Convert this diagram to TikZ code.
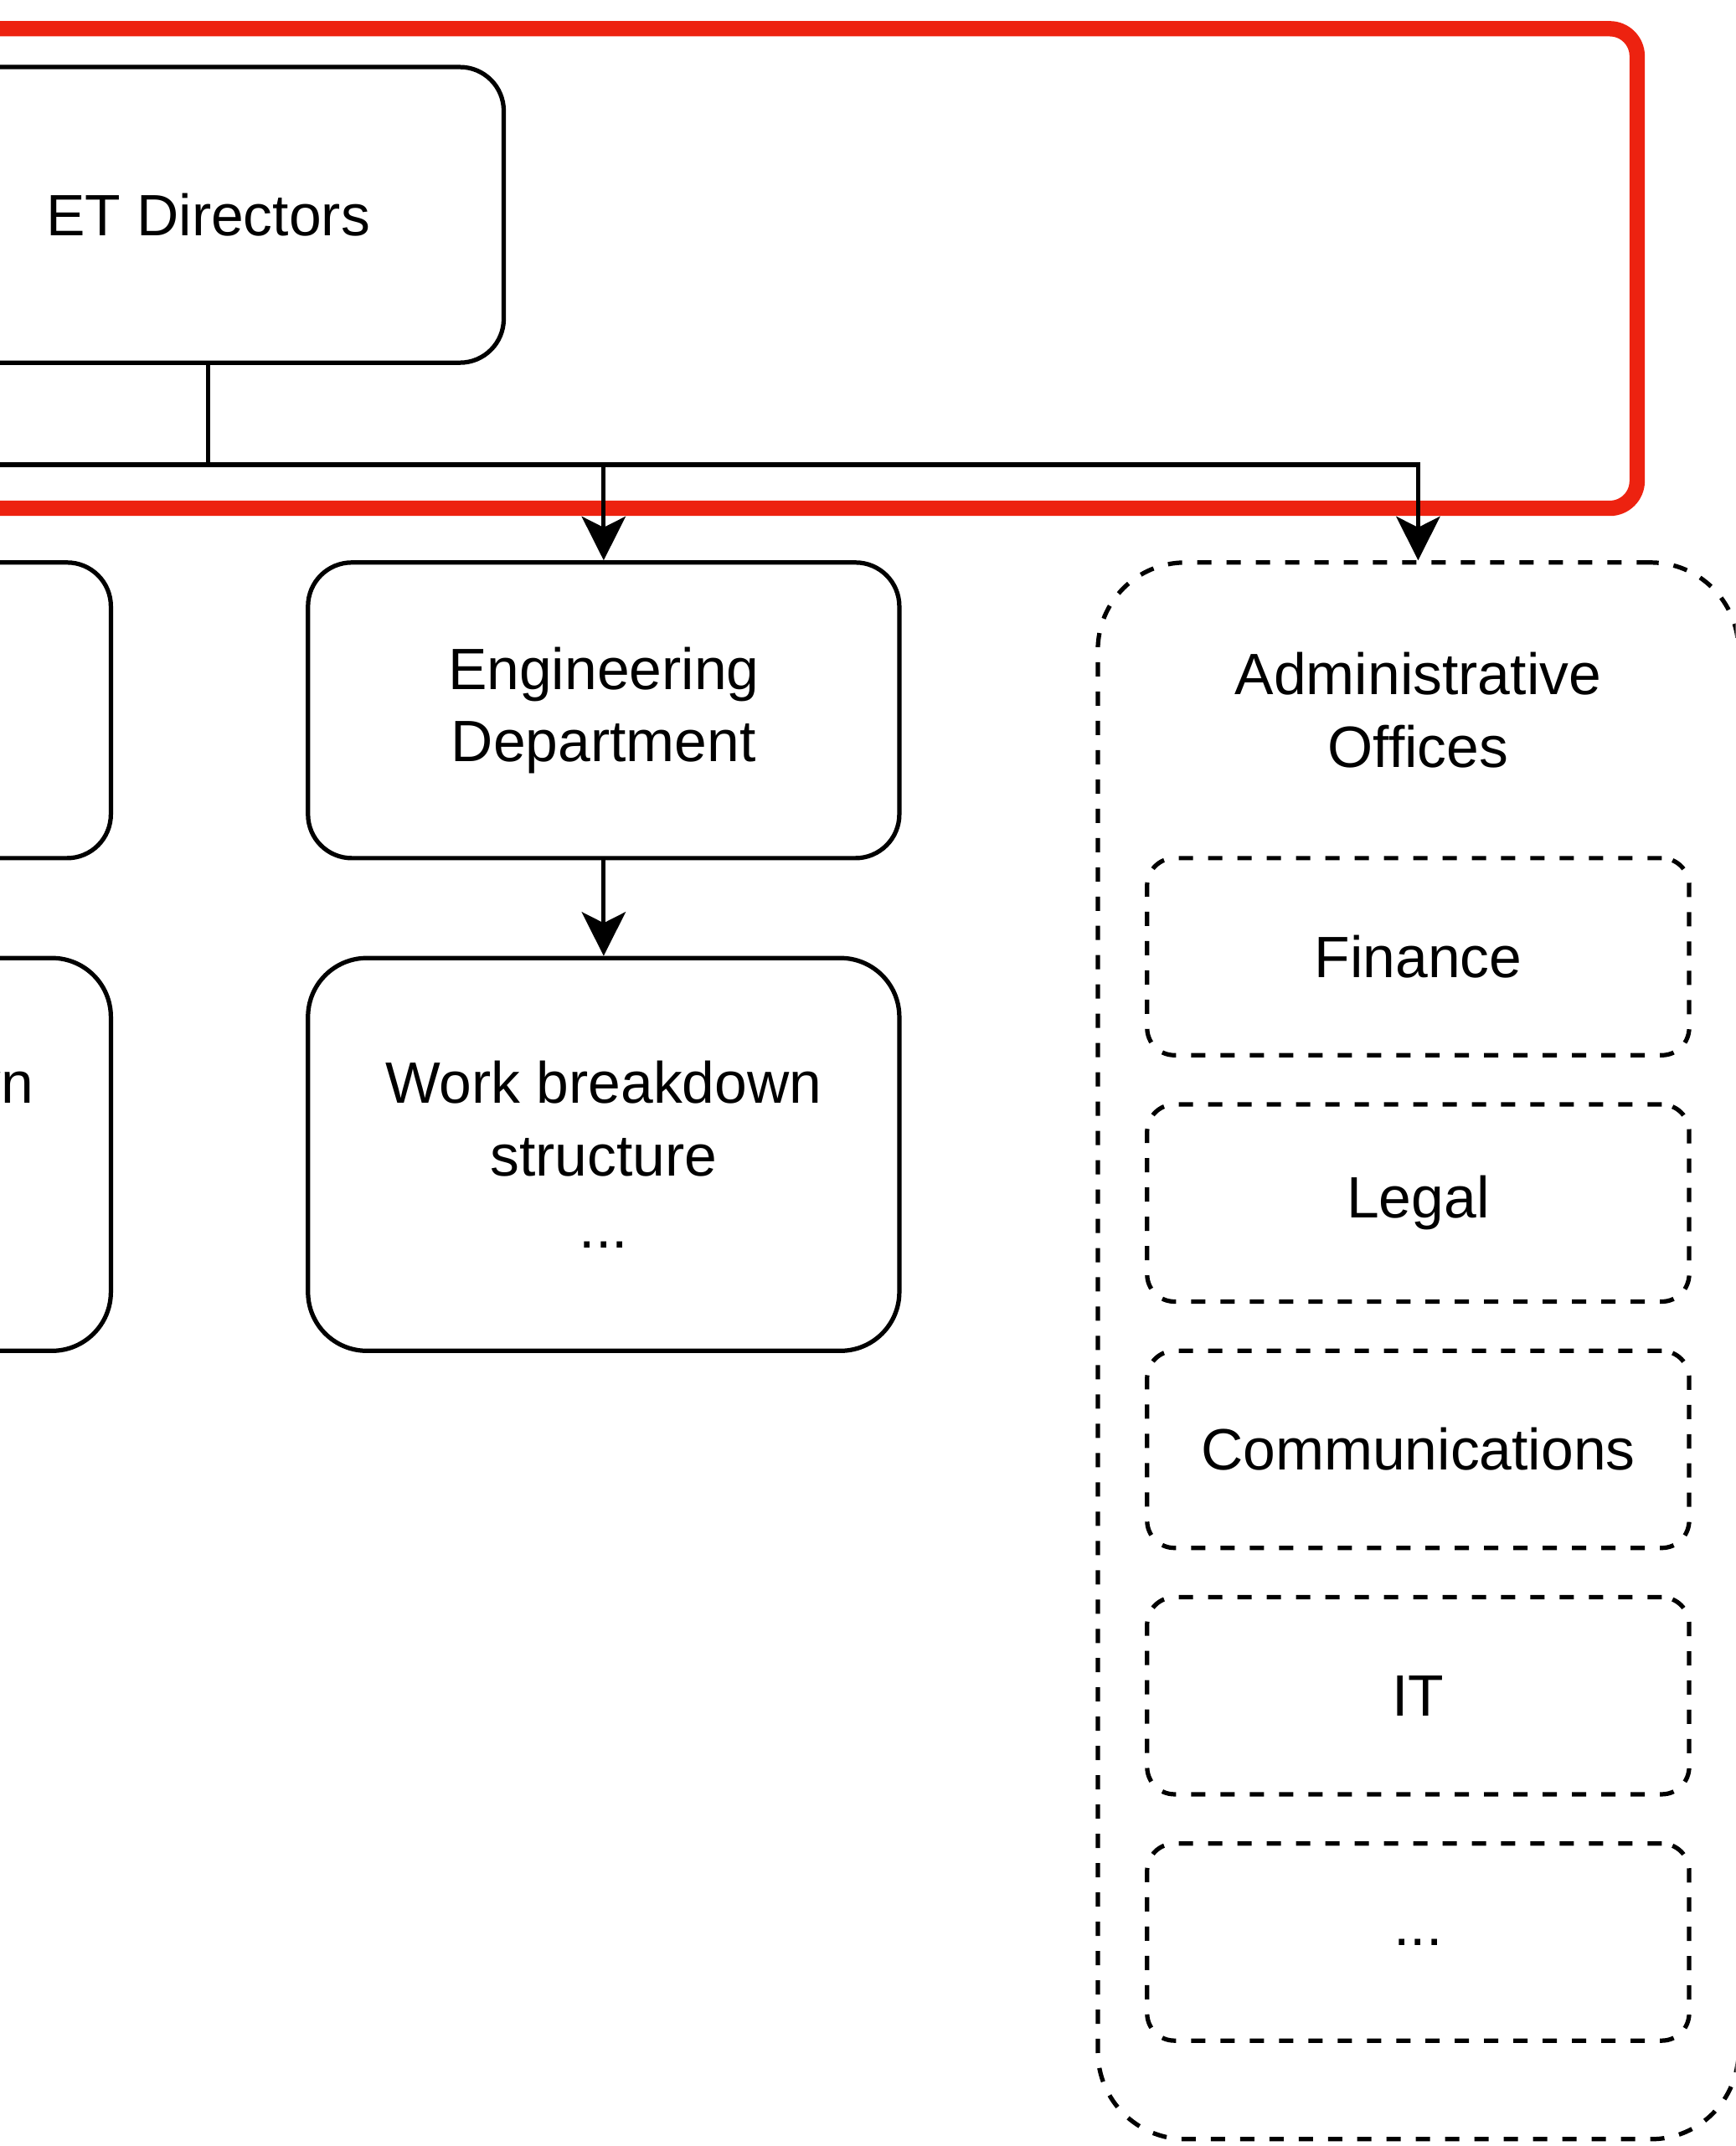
\documentclass[tikz,border=0pt]{standalone}
\usepackage{xcolor}
\usepackage{fontspec}
\setmainfont{Liberation Sans}
\usepackage{tikz}
\usetikzlibrary{positioning,arrows.meta}
\definecolor{hlred}{RGB}{237,34,16}

\begin{document}
\begin{tikzpicture}[x=1pt, y=1pt, node distance=16.4pt, >={Stealth[length=16pt, width=16pt, inset=4pt]}, every node/.style={font=\fontsize{21.3}{26.5}\selectfont}, box/.style={draw, line width=1.6pt, rounded corners=16pt, align=center, minimum width=216pt, minimum height=108pt}, tall/.style={box, rounded corners=21.5pt, minimum height=143.5pt}, grp/.style={draw, line width=1.6pt, dash pattern=on 5.2pt off 5.5pt, rounded corners=32pt, minimum width=234pt, minimum height=576pt}, sub/.style={draw, line width=1.6pt, dash pattern=on 5.2pt off 5.5pt, rounded corners=10pt, align=center, minimum width=198pt, minimum height=72pt}]
\useasboundingbox (0,0) rectangle (634,-784);
\clip (0,0) rectangle (634,-784);
\node[box] (et) at (76,-78.5) {ET Directors};
\node[box] (dept) at (-67.5,-259.5) {};
\node[box] (eng) at (220.5,-259.5) {Engineering\\Department};
\node[tall] (wbsl) at (-67.5,-421.75) {Work breakdown\\structure\\...};
\node[tall] (wbs) at (220.5,-421.75) {Work breakdown\\structure\\...};
\node[grp] (adm) at (518,-493.5) {};
\node[align=center] (admlbl) at (adm |- eng) {Administrative\\Offices};
\node[sub] (fin) at (518,-349.5) {Finance};
\node[sub, below=of fin] (leg) {Legal};
\node[sub, below=of leg] (com) {Communications};
\node[sub, below=of com] (it) {IT};
\node[sub, below=of it] (more) {...};
% highlight round the top level
\draw[hlred, line width=5.6pt, rounded corners=10pt] (-100,-10.5) rectangle (598,-185.7);
\draw[->, line width=1.6pt] (et.south) -- ++(0,-36.5) -| (dept.north);
\draw[->, line width=1.6pt] (et.south) -- ++(0,-36.5) -| (eng.north);
\draw[->, line width=1.6pt] (et.south) -- ++(0,-36.5) -| (adm.north);
\draw[->, line width=1.6pt] (eng) -- (wbs);
\end{tikzpicture}
\end{document}
